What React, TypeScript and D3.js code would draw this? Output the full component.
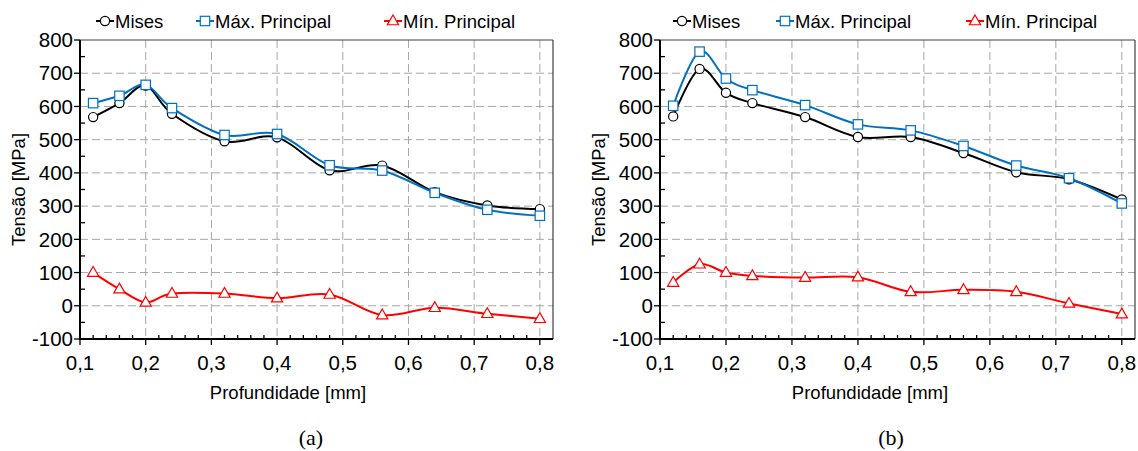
import React from 'react'
import * as d3 from 'd3'

// profundidade [mm]
const depth = [0.12, 0.16, 0.2, 0.24, 0.32, 0.4, 0.48, 0.56, 0.64, 0.72, 0.8]

// (a)
const misesA = [568, 610, 663, 578, 495, 507, 408, 422, 342, 302, 291]
const maxA = [610, 632, 665, 595, 514, 517, 423, 407, 340, 289, 271]
const minA = [100, 50, 10, 37, 37, 23, 34, -28, -6, -24, -39]

// (b)
const misesB = [570, 713, 641, 610, 568, 508, 508, 460, 402, 381, 320]
const maxB = [602, 765, 684, 649, 604, 546, 528, 481, 422, 384, 308]
const minB = [70, 125, 100, 90, 85, 86, 42, 48, 42, 7, -25]

const xTicks = [0.1, 0.2, 0.3, 0.4, 0.5, 0.6, 0.7, 0.8]
const yTicks = [-100, 0, 100, 200, 300, 400, 500, 600, 700, 800]
const legendLabels = ['Mises', 'Máx. Principal', 'Mín. Principal']
const colors = ['#000000', '#0070C0', '#FF0000']
const markers = ['circle', 'square', 'triangle']

const FONT = '"Liberation Sans", Arial, sans-serif'
const FS = 18.5
const TICK_FS = 20.5

function Marker({ kind, x, y, color }) {
    if (kind === 'circle') {
        return <circle cx={x} cy={y} r={4.6} fill="#fff" stroke={color} strokeWidth={1.2} />
    }
    if (kind === 'square') {
        return <rect x={x - 4.7} y={y - 4.7} width={9.4} height={9.4} fill="#fff" stroke={color} strokeWidth={1.2} />
    }
    const p = d3.symbol().type(d3.symbolTriangle).size(55)()
    return <path d={p} transform={`translate(${x},${y + 0.5})`} fill="#fff" stroke={color} strokeWidth={1.2} />
}

function Panel({ left, right, series, legendX, titleX, labelX, caption, captionX }) {
    const top = 40
    const bottom = 339
    const x = d3.scaleLinear().domain([0.1, 0.82]).range([left, right])
    const y = d3.scaleLinear().domain([-100, 800]).range([bottom, top])
    const line = d3.line().x((d, i) => x(depth[i])).y(d => y(d)).curve(d3.curveCardinal.tension(0))

    const minorX = d3.range(6, 41).map(i => i * 0.02).filter(v => Math.abs(v * 10 - Math.round(v * 10)) > 1e-6)
    const minorY = d3.range(-50, 800, 100)

    return (
        <g fontFamily={FONT} fontSize={FS} fill="#000">
            {/* grid */}
            {xTicks.slice(1).map(t => (
                <line key={'gx' + t} x1={x(t)} x2={x(t)} y1={top} y2={bottom} stroke="#a6a6a6" strokeDasharray="8,4" />
            ))}
            {yTicks.slice(1, -1).map(t => (
                <line key={'gy' + t} x1={left} x2={right} y1={y(t)} y2={y(t)} stroke="#a6a6a6" strokeDasharray="8,4" />
            ))}
            {/* frame */}
            <line x1={left} x2={right} y1={top} y2={top} stroke="#404040" strokeWidth={1.2} />
            <line x1={right} x2={right} y1={top} y2={bottom} stroke="#404040" strokeWidth={1.2} />
            <line x1={left} x2={left} y1={top} y2={bottom + 1} stroke="#000" strokeWidth={2} />
            <line x1={left - 1} x2={right} y1={bottom} y2={bottom} stroke="#000" strokeWidth={2} />

            {/* ticks */}
            {yTicks.map(t => (
                <g key={'yt' + t}>
                    <line x1={left - 6} x2={left} y1={y(t)} y2={y(t)} stroke="#000" strokeWidth={1.3} />
                    <text x={left - 7} y={y(t)} dy="0.35em" textAnchor="end" fontSize={TICK_FS}>{t}</text>
                </g>
            ))}
            {minorY.map(t => (
                <line key={'my' + t} x1={left} x2={left + 5} y1={y(t)} y2={y(t)} stroke="#000" strokeWidth={1.3} />
            ))}
            {xTicks.map(t => (
                <g key={'xt' + t}>
                    <line x1={x(t)} x2={x(t)} y1={bottom} y2={bottom + 6} stroke="#000" strokeWidth={1.3} />
                    <text x={x(t)} y={369.5} textAnchor="middle" fontSize={TICK_FS}>{d3.format('.1f')(t).replace('.', ',')}</text>
                </g>
            ))}
            {minorX.map(t => (
                <line key={'mx' + t} x1={x(t)} x2={x(t)} y1={bottom - 4} y2={bottom} stroke="#000" strokeWidth={1.3} />
            ))}

            {/* series */}
            {series.map((s, k) => (
                <g key={'s' + k}>
                    <path d={line(s)} fill="none" stroke={colors[k]} strokeWidth={2} />
                    {s.map((v, i) => (
                        <Marker key={i} kind={markers[k]} x={x(depth[i])} y={y(v)} color={colors[k]} />
                    ))}
                </g>
            ))}

            {/* legend */}
            {legendLabels.map((lab, k) => (
                <g key={'lg' + k}>
                    <line x1={legendX[k]} x2={legendX[k] + 18} y1={21} y2={21} stroke={colors[k]} strokeWidth={2} />
                    <Marker kind={markers[k]} x={legendX[k] + 9} y={21} color={colors[k]} />
                    <text x={legendX[k] + 19} y={28}>{lab}</text>
                </g>
            ))}

            {/* axis titles */}
            <text transform={`translate(${titleX},${(top + bottom) / 2}) rotate(-90)`} dy="0.35em" textAnchor="middle">Tensão [MPa]</text>
            <text x={labelX} y={399} textAnchor="middle">Profundidade [mm]</text>
            <text x={captionX} y={445} textAnchor="middle" fontFamily='"Liberation Serif", "Times New Roman", serif' fontSize={22}>{caption}</text>
        </g>
    )
}

export default function App() {
    return (
        <svg width={1138} height={451} style={{ position: 'absolute', left: 0, top: 0, background: '#fff' }}>
            <rect width={1138} height={451} fill="#fff" />
            <Panel left={80} right={553} series={[misesA, maxA, minA]} legendX={[96, 196, 384]}
                titleX={19} labelX={288} caption="(a)" captionX={311} />
            <Panel left={660} right={1135} series={[misesB, maxB, minB]} legendX={[673, 776, 966]}
                titleX={599} labelX={870} caption="(b)" captionX={891} />
        </svg>
    )
}
